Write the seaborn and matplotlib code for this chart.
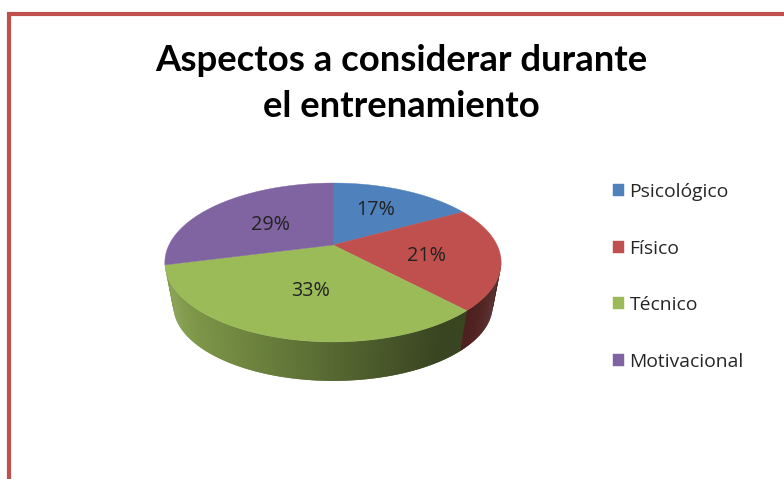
import numpy as np
import matplotlib
matplotlib.use("Agg")
import matplotlib.pyplot as plt
import seaborn as sns

categories = ["Psicológico", "Físico", "Técnico", "Motivacional"]
values = [17, 21, 33, 29]
colors = ["#4f81bd", "#c0504d", "#9bbb59", "#8064a2"]
title = "Aspectos a considerar durante\nel entrenamiento"

sns.set_theme(style="white")
plt.rcParams["font.family"] = ["Lato", "DejaVu Sans"]

fig = plt.figure(figsize=(7.84, 4.79), dpi=100, facecolor="white")
ax = fig.add_axes([0, 0, 1, 1])
ax.set_xlim(0, 784)
ax.set_ylim(479, 0)
ax.axis("off")

# Perspective projection of the disc
CX, CY, BX, BY, K = 333.0, 245.0, 164.0, 75.6, 0.22
BOTTOM_SCALE, BOTTOM_SHIFT = 0.95, 43.8


def project(theta):
    u, v = np.sin(theta), np.cos(theta)
    d = 1 + K * v
    return CX + BX * u / d, CY - BY * v / d


def project_bottom(theta):
    x, y = project(theta)
    return CX + BOTTOM_SCALE * (x - CX), CY + BOTTOM_SHIFT + BOTTOM_SCALE * (y - CY)


def wall_shade(index, x):
    rgb = np.array(matplotlib.colors.to_rgb(colors[index]))
    if index == 1:
        return rgb * 0.40
    f = 0.84 - 0.47 * np.clip((x - 170) / 270.0, 0, 1)
    return rgb * f


frac = np.array(values, dtype=float) / sum(values)
edges = np.concatenate([[0], np.cumsum(frac)]) * 2 * np.pi
t_right = np.arccos(-K)
t_left = 2 * np.pi - t_right

# Side wall: overlapping strips painted in order so no seams show
ts = np.linspace(t_right, t_left, 401)
for j in range(len(ts) - 1):
    a, b = ts[j], ts[min(j + 2, len(ts) - 1)]
    x0, y0 = project(a)
    x1, y1 = project(b)
    x2, y2 = project_bottom(b)
    x3, y3 = project_bottom(a)
    mid = 0.5 * (ts[j] + ts[j + 1])
    i = int(np.searchsorted(edges, mid) - 1)
    i = min(i, 2)
    ax.fill([x0, x1, x2, x3], [y0, y1, y2, y3],
            color=wall_shade(i, 0.5 * (x0 + x1)), lw=0, zorder=2)

# Top face
for i, name in enumerate(categories):
    th = np.linspace(edges[i], edges[i + 1], 200)
    px, py = project(th)
    ax.fill(np.r_[CX, px], np.r_[CY, py], color=colors[i], lw=0.3, zorder=3, label=name)

# Percent labels
label_pos = [(376, 210), (427, 256), (311, 291), (271, 225)]
for v, pos in zip(values, label_pos):
    ax.text(*pos, f"{v}%", ha="center", va="center", fontsize=14.2,
            color="#222222", zorder=4, family=["Open Sans", "DejaVu Sans"])

leg = ax.legend(loc="upper left", bbox_to_anchor=(613 / 784, 1 - 183 / 479),
                bbox_transform=fig.transFigure, frameon=False, ncol=1,
                prop={"family": "Open Sans", "size": 13.9},
                labelspacing=2.0, handlelength=0.57, handleheight=0.57,
                handletextpad=0.28, borderpad=0, borderaxespad=0)
for t in leg.get_texts():
    t.set_color("#262626")

ax.text(401, 83.5, title, ha="center", va="center", fontsize=26.3, fontweight="bold",
        color="black", linespacing=1.5)

# Chart frame (top and left edges visible)
ax.plot([9, 9, 784], [479, 14, 14], color="#c0504d", lw=3.0, solid_joinstyle="miter",
        solid_capstyle="butt", zorder=5)

fig.savefig("out.png", dpi=100, facecolor="white")
